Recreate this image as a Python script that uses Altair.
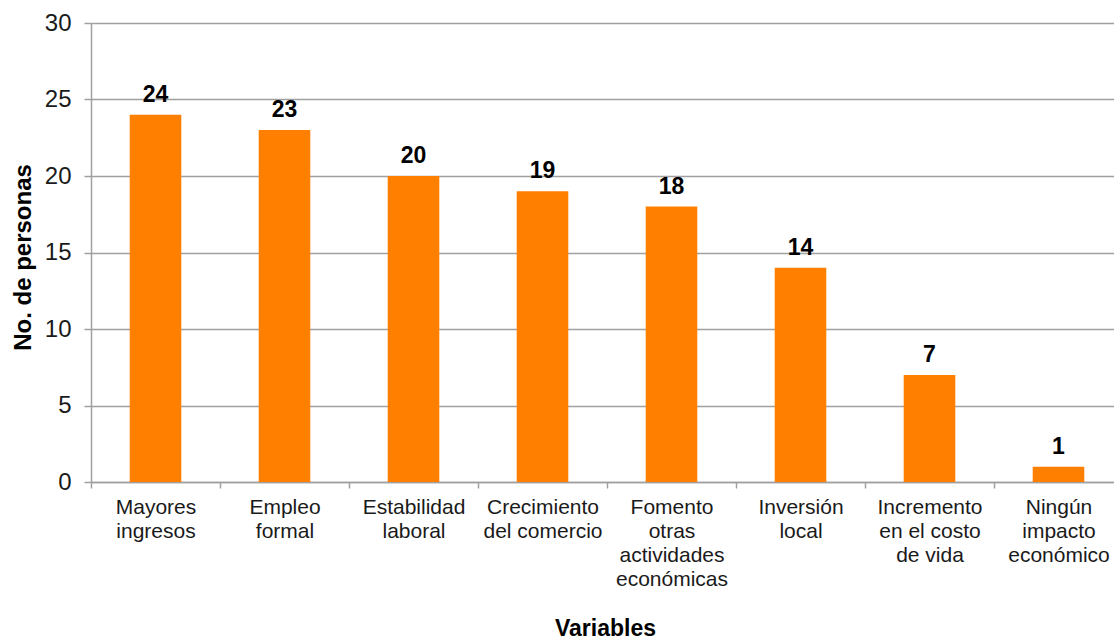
import altair as alt
import pandas as pd

categories = [
    "Mayores\ningresos",
    "Empleo\nformal",
    "Estabilidad\nlaboral",
    "Crecimiento\ndel comercio",
    "Fomento\notras\nactividades\neconómicas",
    "Inversión\nlocal",
    "Incremento\nen el costo\nde vida",
    "Ningún\nimpacto\neconómico",
]
values = [24, 23, 20, 19, 18, 14, 7, 1]
y_ticks = [0, 5, 10, 15, 20, 25, 30]

df = pd.DataFrame({"cat": categories, "val": values})

FONT = "Liberation Sans"
GRID = "#a0a0a0"

x_enc = alt.X(
    "cat:N",
    sort=categories,
    scale=alt.Scale(range=[0, 1032], paddingInner=0, paddingOuter=0),
    axis=alt.Axis(
        title="Variables",
        titleFont=FONT,
        titleFontSize=23,
        titleFontWeight="bold",
        titleColor="#000000",
        titleX=514,
        titleY=146,
        titleBaseline="middle",
        titleAlign="center",
        labelExpr="split(datum.label, '\\n')",
        labelFont=FONT,
        labelFontSize=21,
        labelColor="#1a1a1a",
        labelLineHeight=24,
        labelAngle=0,
        labelPadding=8,
        labelBaseline="top",
        tickBand="extent",
        tickSize=6,
        tickColor=GRID,
        tickWidth=1.5,
        domainColor=GRID,
        domainWidth=1.5,
        grid=False,
    ),
)

y_enc = alt.Y(
    "val:Q",
    scale=alt.Scale(domain=[0, 30], nice=False),
    axis=alt.Axis(
        title="No. de personas",
        titleFont=FONT,
        titleFontSize=24,
        titleFontWeight="bold",
        titleColor="#000000",
        titleAngle=-90,
        titleX=-68,
        titleY=234,
        titleAlign="center",
        titleBaseline="middle",
        values=y_ticks,
        labelFont=FONT,
        labelFontSize=24,
        labelColor="#1a1a1a",
        labelPadding=13,
        tickSize=7,
        tickColor=GRID,
        tickWidth=1.5,
        domainColor=GRID,
        domainWidth=1.5,
        grid=True,
        gridColor=GRID,
        gridWidth=1.5,
    ),
)

bars = alt.Chart(df).mark_bar(
    color="#FF8000", width=alt.RelativeBandSize(0.4)
).encode(x=x_enc, y=y_enc)

labels = alt.Chart(df).mark_text(
    font=FONT, fontSize=23, fontWeight="bold", baseline="bottom", dy=-8, color="#000000"
).encode(
    x=alt.X("cat:N", sort=categories),
    y=alt.Y("val:Q"),
    text=alt.Text("val:Q"),
)

chart = (
    alt.layer(bars, labels)
    .properties(
        width=1022,
        height=459,
        padding={"left": 91, "top": 23, "right": 1, "bottom": 158},
        autosize=alt.AutoSizeParams(type="none"),
    )
    .configure_view(stroke=None)
)

chart.save("out.html", embed_options={"renderer": "svg", "actions": False})
